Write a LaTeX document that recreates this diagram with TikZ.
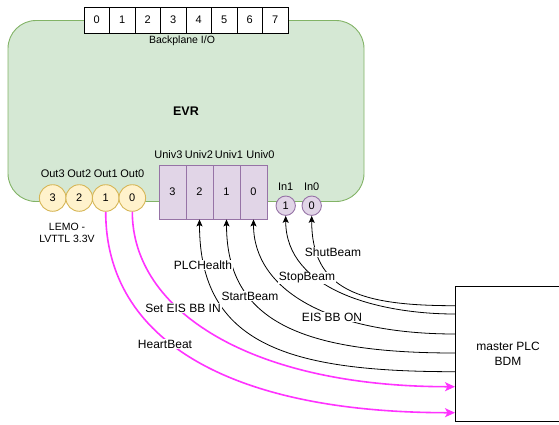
\documentclass[tikz,border=0pt]{standalone}
\usepackage{fontspec}
\setmainfont{Liberation Sans}
\usetikzlibrary{arrows.meta}
\definecolor{evrfill}{HTML}{D5E8D4}
\definecolor{evrdraw}{HTML}{82B366}
\definecolor{outfill}{HTML}{FFF2CC}
\definecolor{outdraw}{HTML}{D6B656}
\definecolor{unifill}{HTML}{E1D5E7}
\definecolor{unidraw}{HTML}{9673A6}
\definecolor{hot}{HTML}{FF33FF}
\tikzset{
  evrbox/.style={draw=evrdraw, fill=evrfill, line width=0.9pt, rounded corners=28pt, inner sep=0pt},
  bpcell/.style={draw=black, fill=white, line width=0.9pt, minimum width=25.5pt, minimum height=26pt, inner sep=0pt, font=\fontsize{11}{13}\selectfont},
  unicell/.style={draw=unidraw, fill=unifill, line width=0.9pt, minimum width=27pt, minimum height=54pt, inner sep=0pt, font=\fontsize{11}{13}\selectfont},
  outc/.style={circle, draw=outdraw, fill=outfill, line width=0.9pt, minimum size=26.6pt, inner sep=0pt, font=\fontsize{11}{13}\selectfont},
  inc/.style={circle, draw=unidraw, fill=unifill, line width=0.9pt, minimum size=19.4pt, inner sep=0pt, font=\fontsize{11}{13}\selectfont},
  small/.style={inner sep=0pt, font=\fontsize{10.5}{12.5}\selectfont},
  portlbl/.style={inner sep=0pt, font=\fontsize{11}{13}\selectfont},
  edgelbl/.style={fill=white, inner sep=1pt, font=\fontsize{12}{14}\selectfont},
  sig/.style={draw=black, line width=0.8pt, -{Stealth[length=7pt,width=6pt,inset=1.5pt]}},
  hotsig/.style={draw=hot, line width=1.6pt, -{Stealth[length=10pt,width=9pt,inset=2.5pt]}},
  plcbox/.style={draw=black, fill=white, line width=0.9pt, minimum width=106pt, minimum height=135.7pt, inner sep=0pt, align=center, font=\fontsize{12}{15}\selectfont}
}
\begin{document}
\begin{tikzpicture}[x=1pt, y=-1pt]
\useasboundingbox (0,0) rectangle (559,424);
% EVR body
\node[evrbox, minimum width=356pt, minimum height=181pt, font=\fontsize{12.5}{14}\selectfont\bfseries] (evr) at (186,111) {EVR};
% Backplane
\foreach \i in {0,...,7} {
  \node[bpcell] (bp\i) at ({84+25.5*(\i+0.5)},20) {\i};
}
\node[small] (bplbl) at (182,40.5) {Backplane I/O};
% Universal I/O
\node[unicell] (u3) at (172.5,192) {3};
\node[unicell] (u2) at (199.5,192) {2};
\node[unicell] (u1) at (226.5,192) {1};
\node[unicell] (u0) at (253.5,192) {0};
\node[portlbl] (lu3) at (168.5,155) {Univ3};
\node[portlbl] (lu2) at (199,155) {Univ2};
\node[portlbl] (lu1) at (229,155) {Univ1};
\node[portlbl] (lu0) at (260.5,155) {Univ0};
% Outputs
\node[outc] (o3) at (52.7,198) {3};
\node[outc] (o2) at (79.2,198) {2};
\node[outc] (o1) at (105.7,198) {1};
\node[outc] (o0) at (132.3,198) {0};
\node[portlbl] (lo3) at (52.7,174) {Out3};
\node[portlbl] (lo2) at (79.2,174) {Out2};
\node[portlbl] (lo1) at (105.7,174) {Out1};
\node[portlbl] (lo0) at (132.3,174) {Out0};
\node[small, align=center] (lemo) at (67,233) {LEMO -\\LVTTL 3.3V};
% Inputs
\node[inc] (in1) at (285.7,205.7) {1};
\node[inc] (in0) at (311.7,205.7) {0};
\node[portlbl] (lin1) at (285.7,186.7) {In1};
\node[portlbl] (lin0) at (311.7,186.7) {In0};
% master PLC
\node[plcbox] (bdm) at (508,353.85) {master PLC\\BDM};
\coordinate (s1) at (455,305.7);
\coordinate (s2) at (455,314);
\coordinate (s3) at (455,334);
\coordinate (s4) at (455,353);
\coordinate (s5) at (455,371.7);
\coordinate (e1) at (455,386.7);
\coordinate (e2) at (455,412.7);
% Connectors
\draw[sig] (s1) .. controls +(-95,0) and +(0,74.6) .. (in0.south);
\draw[sig] (s2) .. controls +(-75,0) and +(0,74.6) .. (in1.south);
\draw[sig] (s3) .. controls +(-125,0) and +(0,71) .. (u0.south);
\draw[sig] (s4) .. controls +(-155,0) and +(0,101) .. (u1.south);
\draw[sig] (s5) .. controls +(-165,0) and +(0,126) .. (u2.south);
\draw[hotsig] (o0.south) .. controls +(0,98.5) and +(-205,0) .. (e1);
\draw[hotsig] (o1.south) .. controls +(0,128.5) and +(-225,0) .. (e2);
% Edge labels
\node[edgelbl] (lshut) at (333,252) {ShutBeam};
\node[edgelbl] (lstop) at (307,278) {StopBeam};
\node[edgelbl] (leis) at (332,317) {EIS BB ON};
\node[edgelbl] (lstart) at (250,296) {StartBeam};
\node[edgelbl] (lhealth) at (203,265) {PLCHealth};
\node[edgelbl] (lset) at (183,308) {Set EIS BB IN};
\node[edgelbl] (lheart) at (165,344) {HeartBeat};
\end{tikzpicture}
\end{document}
